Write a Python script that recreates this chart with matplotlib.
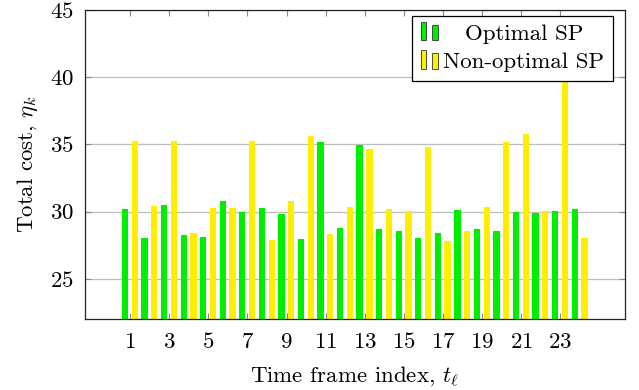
import numpy as np
import matplotlib
matplotlib.use("Agg")
import matplotlib.pyplot as plt
from matplotlib.patches import Rectangle
from matplotlib.legend_handler import HandlerBase

plt.rcParams["font.family"] = "serif"
plt.rcParams["font.serif"] = ["cmr10", "DejaVu Serif"]
plt.rcParams["mathtext.fontset"] = "cm"
plt.rcParams["axes.unicode_minus"] = False
plt.rcParams["axes.formatter.use_mathtext"] = True

# Time frame indices and total cost per frame
frames = np.arange(1, 25)
optimal_sp = [30.20, 28.04, 30.47, 28.24, 28.12, 30.77, 30.00, 30.27, 29.85, 27.95,
              35.17, 28.76, 34.93, 28.74, 28.56, 28.02, 28.37, 30.12, 28.74, 28.56,
              30.00, 29.88, 30.02, 30.17]
non_optimal_sp = [35.25, 30.45, 35.25, 28.39, 30.30, 30.25, 35.22, 27.90, 30.82, 35.64,
                  28.34, 30.35, 34.65, 30.17, 30.05, 34.80, 27.82, 28.54, 30.35, 35.20,
                  35.74, 30.02, 40.30, 28.00]
xtick_values = list(range(1, 24, 2))
ytick_values = [25, 30, 35, 40, 45]

GREEN = "#00ee00"
YELLOW = "#ffee00"
BAR_W = 0.32
FS = 16.5


class TwinBarHandler(HandlerBase):
    """Legend glyph made of two small bars, as in pgfplots ybar legends."""

    def __init__(self, color):
        super().__init__()
        self.color = color

    def create_artists(self, legend, orig_handle, xdescent, ydescent,
                       width, height, fontsize, trans):
        x0 = -xdescent
        y0 = -ydescent - 0.1 * height
        r1 = Rectangle((x0, y0), 0.27 * width, 1.35 * height,
                       facecolor=self.color, edgecolor="#333333", lw=0.6,
                       transform=trans)
        r2 = Rectangle((x0 + 0.66 * width, y0), 0.3 * width, 1.1 * height,
                       facecolor=self.color, edgecolor="#333333", lw=0.6,
                       transform=trans)
        return [r1, r2]


fig = plt.figure(figsize=(6.39, 3.90), dpi=100)
ax = fig.add_axes([0.1326, 0.182, 0.8454, 0.792])

b1 = ax.bar(frames - 0.26, optimal_sp, width=BAR_W, color=GREEN, zorder=2,
            label="Optimal SP")
b2 = ax.bar(frames + 0.24, non_optimal_sp, width=BAR_W, color=YELLOW, zorder=2,
            label="Non-optimal SP")

ax.set_xlim(-1.32, 26.31)
ax.set_ylim(22, 45)
ax.set_xticks(xtick_values)
ax.set_yticks(ytick_values)
ax.yaxis.grid(True, color="#bdbdbd", lw=0.9, zorder=0)
ax.set_axisbelow(True)
ax.tick_params(direction="in", length=4.5, width=0.8, color="#888888",
               top=True, right=True, labelsize=FS, pad=8)
ax.tick_params(axis="x", pad=9.5)
for s in ax.spines.values():
    s.set_linewidth(0.9)
    s.set_color("#222222")

ax.set_xlabel(r"Time frame index, $t_\ell$", fontsize=FS, labelpad=9)
ax.set_ylabel(r"Total cost, $\eta_k$", fontsize=FS, labelpad=7)

leg = ax.legend(handles=[b1, b2], loc="upper right",
                bbox_to_anchor=(0.978, 0.981), borderaxespad=0,
                fontsize=FS, fancybox=False, edgecolor="black", framealpha=1,
                handlelength=0.76, handleheight=0.55, handletextpad=0.22,
                labelspacing=0.38, borderpad=0.38,
                handler_map={b1: TwinBarHandler(GREEN), b2: TwinBarHandler(YELLOW)})
leg.get_frame().set_linewidth(0.9)
leg.set_zorder(5)

# centre the shorter label within the legend column
renderer = fig.canvas.get_renderer()
texts = leg.get_texts()
w0 = texts[0].get_window_extent(renderer).width
w1 = texts[1].get_window_extent(renderer).width
texts[0].set_x((w1 - w0) / 2)

fig.savefig("out.png", dpi=100)
